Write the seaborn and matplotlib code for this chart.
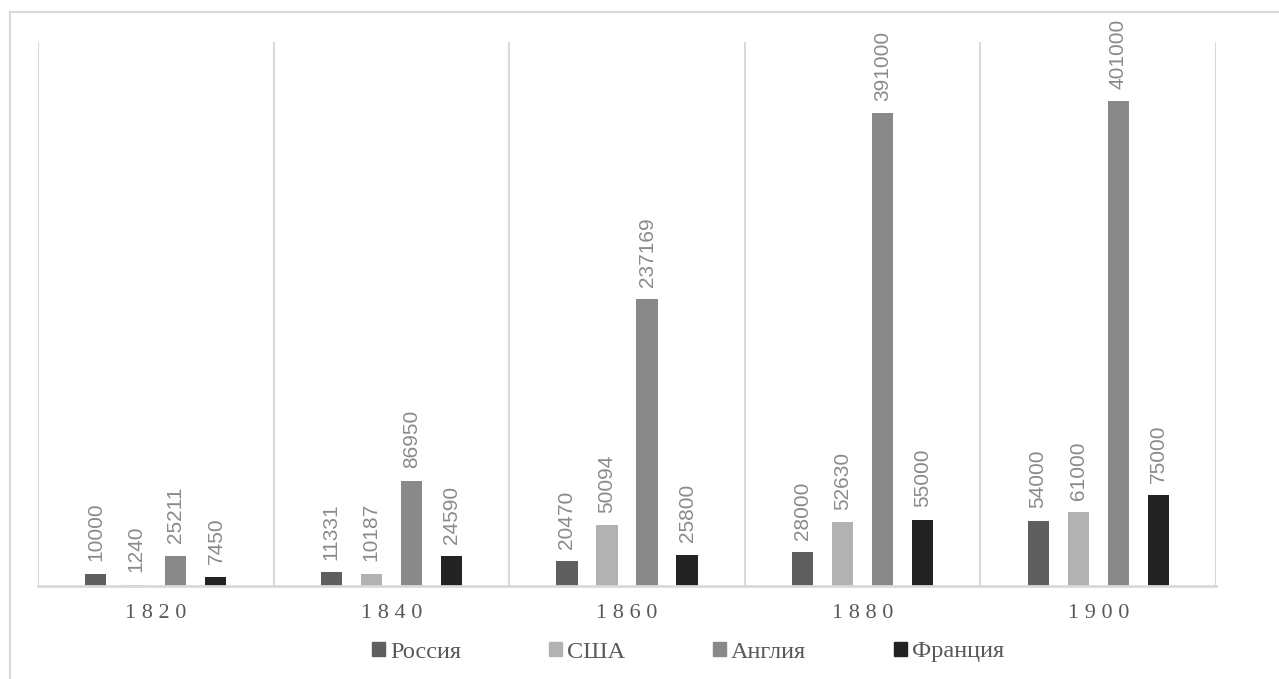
import matplotlib
matplotlib.use("Agg")
import matplotlib.pyplot as plt
from matplotlib.lines import Line2D
import seaborn as sns
import pandas as pd

# Years (categories) and production per country
years = ["1820", "1840", "1860", "1880", "1900"]
countries = ["Россия", "США", "Англия", "Франция"]
russia = [10000, 11331, 20470, 28000, 54000]
usa = [1240, 10187, 50094, 52630, 61000]
england = [25211, 86950, 237169, 391000, 401000]
france = [7450, 24590, 25800, 55000, 75000]
colors = ["#5f5f5f", "#b2b2b2", "#898989", "#232323"]

series = [russia, usa, england, france]
df = pd.DataFrame(
    [(y, c, v) for c, vals in zip(countries, series) for y, v in zip(years, vals)],
    columns=["year", "country", "value"],
)

sns.set_theme(style="white")
plt.rcParams["font.family"] = ["Liberation Serif", "DejaVu Serif"]

fig = plt.figure(figsize=(12.79, 6.79), dpi=100)
ax = fig.add_axes([38 / 1279, 1 - 586 / 679, (1216 - 38) / 1279, (586 - 42) / 679])

sns.barplot(
    data=df, x="year", y="value", hue="country", order=years, hue_order=countries,
    palette=colors, width=0.68, gap=0.47, saturation=1, linewidth=0, ax=ax,
    legend=False,
)

for cont in ax.containers:
    ax.bar_label(cont, labels=[f"{int(v)}" for v in cont.datavalues], rotation=90,
                 padding=9, fontsize=15, color="#8a8a8a", family="Liberation Sans")

ax.set_ylim(0, 450000)
ax.set_xlim(-0.5, len(years) - 0.5)
ax.set_yticks([])
ax.set_xlabel("")
ax.set_ylabel("")
ax.set_xticks(range(len(years)))
ax.set_xticklabels([" ".join(y) for y in years], fontsize=16, color="#595959")
ax.tick_params(axis="x", length=0, pad=13)

for s in ["left", "right", "top"]:
    ax.spines[s].set_visible(False)
ax.spines["bottom"].set_color("#d9d9d9")
ax.spines["bottom"].set_linewidth(2)

# category separators
for x in [i - 0.5 for i in range(len(years) + 1)]:
    ax.axvline(x, color="#d9d9d9", lw=1.5, zorder=0)

# chart frame (left and top edges)
fig.add_artist(Line2D([9.5 / 1279, 9.5 / 1279], [0, 1 - 12 / 679],
                      transform=fig.transFigure, color="#d9d9d9", lw=1.5))
fig.add_artist(Line2D([9.5 / 1279, 1], [1 - 12 / 679, 1 - 12 / 679],
                      transform=fig.transFigure, color="#d9d9d9", lw=1.5))

handles = [plt.Rectangle((0, 0), 1, 1, color=c) for c in colors]
leg = fig.legend(handles, countries, loc="center", bbox_to_anchor=(688 / 1279, 1 - 652 / 679),
                 ncol=4, frameon=False, fontsize=17.5, handlelength=0.55, handleheight=0.55,
                 handletextpad=0.2, columnspacing=3.6, labelcolor="#595959")

fig.savefig("out.png", dpi=100, facecolor="white")
